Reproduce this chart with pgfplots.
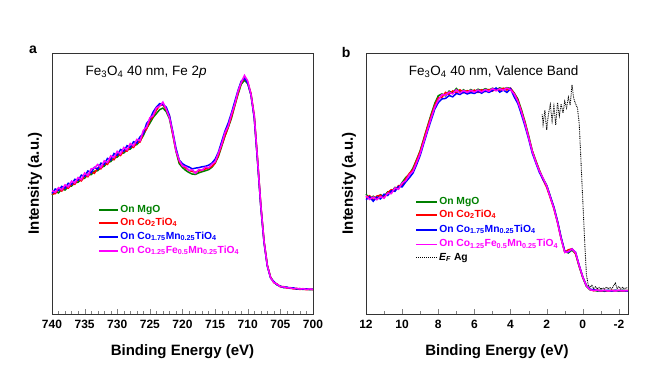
\documentclass[border=0pt]{standalone}
\usepackage{fontspec}
\setmainfont{Liberation Sans}
\usepackage{pgfplots}
\pgfplotsset{compat=1.18}
\usepackage{pgfplotstable}
\definecolor{cmgo}{RGB}{0,128,0}
\definecolor{cco}{RGB}{255,0,0}
\definecolor{ccomn}{RGB}{0,0,255}
\definecolor{cfe}{RGB}{255,0,255}

% Fe 2p spectra: E, MgO, Co2TiO4, Co1.75Mn0.25TiO4, Co1.25Fe0.5Mn0.25TiO4
\pgfplotstableread{
E g r b m
740.0 45.6 46.0 46.2 47.3
739.5 46.9 46.1 47.9 46.6
739.0 46.4 47.8 47.3 48.4
738.5 47.9 47.1 48.9 47.6
738.0 47.5 48.6 48.2 49.5
737.5 48.8 48.2 50.1 48.7
737.0 49.0 49.8 49.6 50.9
736.5 50.3 49.7 51.6 50.2
736.0 50.5 51.6 51.2 52.3
735.5 51.8 51.0 53.2 51.5
735.0 52.0 52.9 52.7 54.0
734.5 53.5 52.6 54.8 53.0
734.0 53.4 54.5 54.1 55.6
733.5 54.7 53.9 56.2 55.9
733.0 54.9 55.9 55.5 57.3
732.5 56.2 55.6 57.8 56.1
732.0 56.6 57.6 57.3 58.7
731.5 58.1 57.3 59.6 58.0
731.0 58.4 59.4 59.0 60.6
730.5 59.8 59.1 61.5 59.9
730.0 60.1 61.2 60.8 62.3
729.5 61.4 60.7 63.0 61.3
729.0 61.7 62.6 62.4 63.8
728.5 62.9 62.4 64.5 62.9
728.0 63.2 64.2 63.8 65.3
727.5 64.5 63.8 66.0 64.4
727.0 64.9 65.8 65.5 66.9
726.5 66.3 65.9 67.9 66.4
726.0 68.4 69.3 69.1 70.4
725.5 71.1 70.9 73.0 71.6
725.0 73.1 74.1 74.6 75.2
724.5 75.3 75.8 77.4 76.0
724.0 76.8 78.1 79.3 79.0
723.5 78.3 79.9 80.6 79.6
723.0 78.9 80.2 80.2 81.2
722.5 77.6 78.3 79.3 78.5
722.0 74.8 75.9 76.1 75.2
721.5 68.9 69.0 70.0 69.6
721.0 62.4 62.7 63.5 62.6
720.5 57.6 58.4 59.0 58.9
720.0 56.1 56.8 57.6 56.7
719.5 55.0 55.9 56.8 56.4
719.0 54.2 55.0 56.3 55.0
718.5 53.6 54.6 55.6 55.3
718.0 53.5 54.3 55.9 53.9
717.5 54.1 54.8 56.1 55.4
717.0 54.5 55.0 56.4 55.1
716.5 54.9 55.6 56.6 56.3
716.0 55.3 55.8 57.0 56.0
715.5 56.2 56.5 57.8 57.4
715.0 57.8 57.9 59.3 58.3
714.5 60.4 60.8 62.0 61.6
714.0 64.2 64.6 66.0 65.0
713.5 68.1 68.3 70.0 69.4
713.0 71.4 71.6 73.1 72.0
712.5 75.0 75.5 77.0 76.4
712.0 79.7 79.9 81.3 80.3
711.5 84.1 84.5 85.6 85.3
711.0 88.0 88.6 89.2 88.7
710.5 89.6 90.3 90.3 91.4
710.0 88.2 88.7 88.5 89.3
709.5 83.8 84.5 83.9 84.0
709.0 75.3 76.0 75.0 75.8
708.5 58.8 59.4 58.5 59.2
708.0 41.4 41.9 41.1 41.6
707.5 27.6 27.9 27.3 27.7
707.0 18.6 18.7 18.3 18.5
706.5 14.0 14.1 13.8 13.9
706.0 12.3 12.0 12.4 12.1
705.5 11.1 11.5 11.2 11.4
705.0 10.7 10.4 10.6 10.5
704.5 10.1 10.5 10.2 10.4
704.0 10.2 9.9 10.3 10.0
703.5 9.8 10.1 9.9 10.0
703.0 9.9 9.6 10.0 9.7
702.5 9.5 9.8 9.6 9.8
702.0 9.7 9.4 9.7 9.6
701.5 9.4 9.6 9.5 9.7
701.0 9.6 9.3 9.6 9.4
700.5 9.3 9.5 9.4 9.6
700.0 9.5 9.3 9.4 9.4
}\fetwop

% valence band spectra, same column order
\pgfplotstableread{
E g r b m
12.0 45.9 44.6 43.8 45.3
11.8 44.2 45.3 44.9 43.9
11.6 45.1 43.7 43.2 44.8
11.4 44.0 45.2 44.8 43.8
11.2 45.7 45.5 44.1 45.0
11.0 45.0 44.6 45.9 44.4
10.8 46.8 46.5 45.4 46.3
10.6 46.6 47.6 47.2 46.1
10.4 48.5 47.2 47.0 48.3
10.2 48.1 49.2 48.9 47.8
10.0 50.4 49.0 48.7 50.2
9.8 52.3 51.8 50.6 51.1
9.6 53.5 53.9 52.2 53.4
9.4 55.9 55.3 54.0 54.7
9.2 59.1 58.9 57.2 58.0
9.0 62.6 62.3 60.8 61.5
8.8 67.2 66.9 65.4 66.0
8.6 71.8 71.6 69.9 70.5
8.4 76.4 75.8 74.2 75.0
8.2 80.6 79.9 78.4 79.1
8.0 83.6 82.8 81.0 82.0
7.8 84.3 83.0 82.4 84.1
7.6 83.6 84.9 82.6 83.8
7.4 85.4 84.1 83.7 85.0
7.2 84.6 85.5 83.2 84.3
7.0 86.4 84.8 84.5 85.9
6.8 85.0 85.9 84.1 84.7
6.6 85.9 84.8 85.0 85.6
6.4 84.8 85.6 84.3 84.9
6.2 86.0 85.1 84.8 85.7
6.0 85.2 85.8 84.5 85.0
5.8 86.1 84.9 85.3 85.8
5.6 85.6 85.9 84.6 85.1
5.4 86.3 85.2 85.5 86.0
5.2 85.8 86.0 84.9 85.3
5.0 86.5 85.4 85.6 86.4
4.8 85.9 86.3 86.6 85.5
4.6 86.6 85.7 85.0 86.3
4.4 86.2 86.5 85.8 85.7
4.2 86.7 85.8 84.9 86.6
4.0 86.4 86.5 86.3 85.9
3.8 84.7 84.5 83.2 84.3
3.6 82.4 81.9 80.7 81.5
3.4 78.3 77.8 76.5 77.4
3.2 73.6 73.2 72.0 72.8
3.0 68.3 67.9 67.1 67.6
2.8 62.6 62.5 61.7 62.3
2.6 58.7 58.5 57.9 58.2
2.4 55.0 54.9 54.2 54.7
2.2 51.9 51.4 51.5 52.0
2.0 49.3 48.5 49.2 49.1
1.8 45.0 44.5 45.1 44.7
1.6 40.8 40.3 40.9 40.5
1.4 35.4 35.0 35.5 35.1
1.2 29.1 28.8 29.3 28.8
1.0 23.9 23.7 24.0 23.6
0.8 23.4 24.6 23.7 23.9
0.6 24.5 25.0 24.9 24.9
0.4 23.2 23.0 23.6 23.5
0.2 18.2 18.3 18.6 18.5
0.0 13.9 14.0 14.2 14.1
-0.2 10.6 10.8 10.8 10.7
-0.4 9.2 9.4 9.5 9.3
-0.6 9.2 8.9 9.3 9.0
-0.8 8.8 9.1 9.0 9.2
-1.0 9.1 8.8 9.0 8.9
-1.2 8.7 9.0 8.9 9.1
-1.4 9.0 8.8 9.1 8.8
-1.6 8.8 9.1 8.8 9.0
-1.8 9.0 8.9 9.1 8.8
-2.0 8.8 9.0 8.9 9.1
-2.2 9.1 8.8 9.0 8.9
-2.5 8.9 9.0 8.8 9.0
}\vbtab

% Fermi edge of Ag
\pgfplotstableread{
E ag
2.25 76.5
2.20 72.8
2.10 78.0
2.00 70.5
1.90 76.8
1.80 80.2
1.70 74.0
1.60 79.5
1.50 72.5
1.40 81.0
1.30 76.0
1.20 80.5
1.10 77.0
1.00 81.5
0.90 79.0
0.80 83.0
0.70 80.0
0.60 87.8
0.50 82.5
0.40 80.5
0.30 79.0
0.20 73.0
0.10 58.0
0.00 43.0
-0.10 28.0
-0.20 15.0
-0.30 11.0
-0.40 10.2
-0.50 11.0
-0.60 9.8
-0.70 10.4
-0.80 9.6
-0.90 10.2
-1.00 9.5
-1.10 10.0
-1.20 9.6
-1.30 10.3
-1.40 9.7
-1.50 10.1
-1.60 9.6
-1.70 10.8
-1.80 11.8
-1.90 9.8
-2.00 10.5
-2.10 9.6
-2.20 10.2
-2.30 9.7
-2.40 10.1
-2.50 9.8
}\agedge

\pgfplotsset{
  xps/.style={
    scale only axis, height=261pt,
    x dir=reverse, ymin=0, ymax=100,
    ytick=\empty, xtick pos=left, tick align=inside,
    major tick length=5pt, minor tick length=3pt,
    axis line style={black!80, line width=0.8pt},
    /pgf/number format/assume math mode=true,
    ticklabel style={font=\bfseries\fontsize{12}{14}\selectfont},
    xticklabel style={yshift=-3pt},
    xlabel={Binding Energy (eV)},
    ylabel={Intensity (a.u.)},
    label style={font=\bfseries\fontsize{15}{18}\selectfont},
    xlabel style={at={(axis description cs:0.5,-0.145)}, anchor=center},
    ylabel style={at={(axis description cs:-0.065,0.5)}, anchor=center},
    clip=false,
  },
  spec/.style={line width=1.5pt},
}
\tikzset{
  key/.style={line width=1.6pt},
  keytext/.style={anchor=west, inner sep=1.5pt, text height=7pt, text depth=2.5pt,
    font=\bfseries\fontsize{10.3}{12}\selectfont},
}

\begin{document}
\begin{tikzpicture}
\path[use as bounding box] (0,0) rectangle (654pt,380pt);

\begin{axis}[xps, at={(52pt,66pt)}, anchor=south west, width=261pt,
  xmin=700, xmax=740, xtick={700,705,...,740}, minor x tick num=4]
  \addplot[cmgo, spec] table[x=E, y=g] {\fetwop};
  \addplot[cco, spec] table[x=E, y=r] {\fetwop};
  \addplot[ccomn, spec] table[x=E, y=b] {\fetwop};
  \addplot[cfe, spec] table[x=E, y=m] {\fetwop};
  % key
  \draw[key, cmgo] (rel axis cs:0.18,0.398) -- (rel axis cs:0.253,0.398)
    node[keytext, text=cmgo] {On MgO};
  \draw[key, cco] (rel axis cs:0.18,0.349) -- (rel axis cs:0.253,0.349)
    node[keytext, text=cco] {On Co\textsubscript{2}TiO\textsubscript{4}};
  \draw[key, ccomn] (rel axis cs:0.18,0.295) -- (rel axis cs:0.253,0.295)
    node[keytext, text=ccomn] {On Co\textsubscript{1.75}Mn\textsubscript{0.25}TiO\textsubscript{4}};
  \draw[key, cfe] (rel axis cs:0.18,0.241) -- (rel axis cs:0.253,0.241)
    node[keytext, text=cfe] {On Co\textsubscript{1.25}Fe\textsubscript{0.5}Mn\textsubscript{0.25}TiO\textsubscript{4}};
  \node[anchor=west, font=\fontsize{13.5}{15}\selectfont] at (rel axis cs:0.115,0.927)
    {Fe\textsubscript{3}O\textsubscript{4} 40 nm, Fe 2\textit{p}};
  \node[font=\bfseries\fontsize{14}{16}\selectfont] at (rel axis cs:-0.073,1.012) {a};
\end{axis}

\begin{axis}[xps, at={(366pt,66pt)}, anchor=south west, width=262pt,
  xmin=-2.5, xmax=12, xtick={-2,0,...,12}, minor x tick num=1]
  \addplot[cmgo, spec] table[x=E, y=g] {\vbtab};
  \addplot[cco, spec] table[x=E, y=r] {\vbtab};
  \addplot[ccomn, spec] table[x=E, y=b] {\vbtab};
  \addplot[cfe, spec] table[x=E, y=m] {\vbtab};
  \addplot[black, dash pattern=on 0.9pt off 0.9pt, line width=0.9pt] table[x=E, y=ag] {\agedge};
  % key
  \draw[key, cmgo] (rel axis cs:0.191,0.429) -- (rel axis cs:0.271,0.429)
    node[keytext, text=cmgo] {On MgO};
  \draw[key, cco] (rel axis cs:0.191,0.379) -- (rel axis cs:0.271,0.379)
    node[keytext, text=cco] {On Co\textsubscript{2}TiO\textsubscript{4}};
  \draw[key, ccomn] (rel axis cs:0.191,0.322) -- (rel axis cs:0.271,0.322)
    node[keytext, text=ccomn] {On Co\textsubscript{1.75}Mn\textsubscript{0.25}TiO\textsubscript{4}};
  \draw[key, cfe] (rel axis cs:0.191,0.266) -- (rel axis cs:0.271,0.266)
    node[keytext, text=cfe] {On Co\textsubscript{1.25}Fe\textsubscript{0.5}Mn\textsubscript{0.25}TiO\textsubscript{4}};
  \draw[black, line width=1pt, dash pattern=on 1pt off 1pt] (rel axis cs:0.191,0.215) -- (rel axis cs:0.271,0.215)
    node[keytext, text=black] {\textit{E}\textsubscript{\textit{F}} Ag};
  \node[anchor=west, font=\fontsize{13.5}{15}\selectfont] at (rel axis cs:0.15,0.927)
    {Fe\textsubscript{3}O\textsubscript{4} 40 nm, Valence Band};
  \node[font=\bfseries\fontsize{14}{16}\selectfont] at (rel axis cs:-0.076,1.0) {b};
\end{axis}
\end{tikzpicture}
\end{document}
